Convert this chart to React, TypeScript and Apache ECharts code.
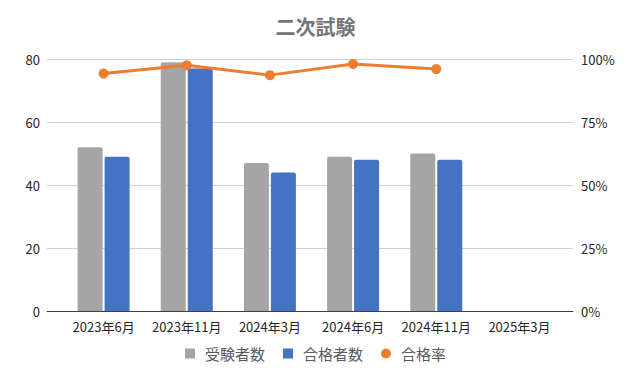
import React, { useEffect, useRef } from "react";
import * as echarts from "echarts";

const categories = ["2023年6月", "2023年11月", "2024年3月", "2024年6月", "2024年11月", "2025年3月"];
const examinees = [52, 79, 47, 49, 50, null];
const passers = [49, 77, 44, 48, 48, null];
const passRate = [0.942, 0.975, 0.936, 0.98, 0.96, null];
const leftTicks = { min: 0, max: 80, interval: 20 };
const rightTicks = { min: 0, max: 1, interval: 0.25 };

const FONT = "'Noto Sans CJK JP', 'Noto Sans', sans-serif";

export default function App() {
  const ref = useRef<HTMLDivElement>(null);
  useEffect(() => {
    document.body.style.margin = "0";
    const chart = echarts.init(ref.current!, null, { renderer: "svg" });
    chart.setOption({
      animation: false,
      textStyle: { fontFamily: FONT },
      title: {
        text: "二次試験",
        left: "center",
        top: 16,
        padding: 0,
        textStyle: { fontSize: 20, fontWeight: "bold", color: "#757575", fontFamily: FONT },
      },
      legend: {
        left: "center",
        top: 341,
        itemWidth: 10,
        itemHeight: 10,
        itemGap: 18,
        textStyle: { fontSize: 15, color: "#595959", fontFamily: FONT, padding: [0, 0, 0, 5] },
        data: [
          { name: "受験者数", icon: "rect" },
          { name: "合格者数", icon: "rect" },
          { name: "合格率", icon: "circle" },
        ],
      },
      grid: [
        { left: 47, right: 58, top: 59, bottom: 70 },
        { left: 62, right: 70, top: 59, bottom: 70 },
      ],
      xAxis: [
        {
          type: "value",
          gridIndex: 0,
          min: 0,
          max: 1,
          axisLine: { show: true, lineStyle: { color: "#404040", width: 1 } },
          axisTick: { show: false },
          axisLabel: { show: false },
          splitLine: { show: false },
        },
        {
          type: "category",
          gridIndex: 1,
          data: categories,
          axisLine: { show: false },
          axisTick: { show: false },
          axisLabel: { fontSize: 13, color: "#262626", margin: 9, fontFamily: FONT, interval: 0 },
        },
      ],
      yAxis: [
        {
          type: "value",
          gridIndex: 0,
          ...leftTicks,
          axisLine: { show: false },
          axisTick: { show: false },
          axisLabel: { fontSize: 13, color: "#262626", margin: 7, fontFamily: FONT },
          splitLine: { lineStyle: { color: "#D0D0D0", width: 1 } },
        },
        {
          type: "value",
          gridIndex: 0,
          position: "right",
          ...rightTicks,
          axisLine: { show: false },
          axisTick: { show: false },
          axisLabel: {
            fontSize: 13,
            color: "#262626",
            margin: 8,
            fontFamily: FONT,
            formatter: (v: number) => `${Math.round(v * 100)}%`,
          },
          splitLine: { show: false },
        },
        { type: "value", gridIndex: 1, ...leftTicks, show: false },
        { type: "value", gridIndex: 1, ...rightTicks, show: false },
      ],
      series: [
        {
          name: "受験者数",
          type: "bar",
          xAxisIndex: 1,
          yAxisIndex: 2,
          data: examinees,
          barWidth: 25,
          barGap: "8%",
          itemStyle: { color: "#A5A5A5", borderRadius: [2, 2, 0, 0] },
        },
        {
          name: "合格者数",
          type: "bar",
          xAxisIndex: 1,
          yAxisIndex: 2,
          data: passers,
          barWidth: 25,
          barGap: "8%",
          itemStyle: { color: "#4472C4", borderRadius: [2, 2, 0, 0] },
        },
        {
          name: "合格率",
          type: "line",
          xAxisIndex: 1,
          yAxisIndex: 3,
          data: passRate,
          symbol: "circle",
          symbolSize: 10,
          lineStyle: { color: "#ED7D31", width: 3 },
          itemStyle: { color: "#ED7D31" },
        },
      ],
    });
    return () => chart.dispose();
  }, []);
  return <div ref={ref} style={{ width: 631, height: 381 }} />;
}
